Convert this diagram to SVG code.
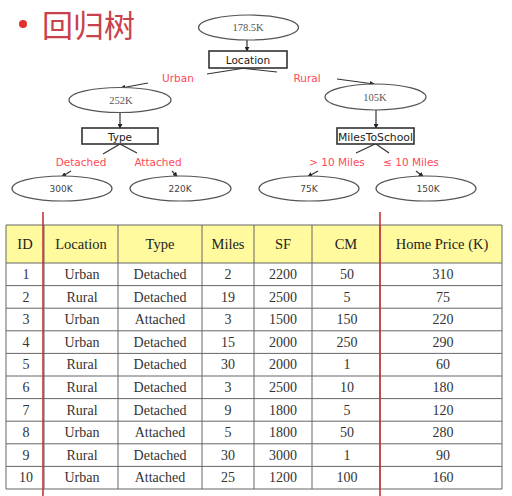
<svg xmlns="http://www.w3.org/2000/svg" width="512" height="496" viewBox="0 0 512 496">
<style>
.ell{fill:#fff;stroke:#555;stroke-width:1.2}
.box{fill:#fff;stroke:#333;stroke-width:1.6}
.lbl{font-family:"DejaVu Sans",sans-serif;font-size:10.5px;fill:#ff4a57;text-anchor:middle}
.bt{font-family:"DejaVu Sans",sans-serif;font-size:10.5px;fill:#222;text-anchor:middle}
.vs{font-family:"Liberation Serif",serif;font-size:10.5px;fill:#555;text-anchor:middle}
.vl{font-family:"DejaVu Sans",sans-serif;font-size:9px;fill:#444;text-anchor:middle}
.con line{stroke:#333;stroke-width:1.2}
.arr{marker-end:url(#ah)}
.grid line{stroke:#666;stroke-width:1}
.th{font-family:"Liberation Serif",serif;font-size:14.5px;fill:#222;text-anchor:middle}
.td{font-family:"Liberation Serif",serif;font-size:14px;fill:#333;text-anchor:middle}
.red{stroke:#c8323a;stroke-width:1.6}
</style>
<defs>
<marker id="ah" viewBox="0 0 6 6" refX="5" refY="3" markerWidth="5" markerHeight="5" orient="auto" markerUnits="userSpaceOnUse">
<path d="M0,0 L6,3 L0,6 z" fill="#222"/>
</marker>
</defs>
<rect width="512" height="496" fill="#fff"/>
<g id="title">
<circle cx="23" cy="24" r="4" fill="#e0312e"/>
<text x="42" y="37" font-family="'Noto Sans CJK SC',sans-serif" font-size="31" fill="#c8414b">回归树</text>
</g>
<g class="con" id="connectors">
<line class="arr" x1="247" y1="40" x2="247" y2="51"/>
<line x1="245" y1="68" x2="207" y2="74"/>
<line x1="240" y1="68" x2="277" y2="72"/>
<line class="arr" x1="148" y1="83" x2="121" y2="88"/>
<line class="arr" x1="337" y1="79" x2="374" y2="84"/>
<line class="arr" x1="120" y1="112.5" x2="120" y2="128"/>
<line x1="120" y1="144" x2="103" y2="154"/>
<line x1="120" y1="144" x2="137" y2="153"/>
<line class="arr" x1="71" y1="171" x2="62" y2="176.5"/>
<line class="arr" x1="172" y1="171" x2="177" y2="176.5"/>
<line class="arr" x1="376" y1="110" x2="376" y2="128"/>
<line x1="375" y1="144" x2="356" y2="153"/>
<line x1="376" y1="144" x2="389" y2="153"/>
<line class="arr" x1="318" y1="171" x2="308" y2="176.5"/>
<line class="arr" x1="416" y1="171" x2="423" y2="176.5"/>
</g>
<g id="n-root"><ellipse class="ell" cx="248.5" cy="27.5" rx="50" ry="12.5"/><text class="vs" x="248" y="31">178.5K</text></g>
<g id="n-location"><rect class="box" x="209" y="51" width="78" height="17"/><text class="bt" x="248" y="64">Location</text></g>
<g id="l-urban"><text class="lbl" x="178" y="81.5">Urban</text></g>
<g id="l-rural"><text class="lbl" x="307" y="81.5">Rural</text></g>
<g id="n-252"><ellipse class="ell" cx="120" cy="100" rx="51" ry="12.5"/><text class="vs" x="121" y="104">252K</text></g>
<g id="n-105"><ellipse class="ell" cx="375.5" cy="97" rx="50.5" ry="13"/><text class="vs" x="375" y="101">105K</text></g>
<g id="n-type"><rect class="box" x="82" y="128" width="76" height="16"/><text class="bt" x="120" y="141">Type</text></g>
<g id="n-miles"><rect class="box" x="337" y="128" width="77" height="16"/><text class="bt" x="375.5" y="141" textLength="75" lengthAdjust="spacingAndGlyphs">MilesToSchool</text></g>
<g id="l-detached"><text class="lbl" x="81" y="166">Detached</text></g>
<g id="l-attached"><text class="lbl" x="158" y="166">Attached</text></g>
<g id="l-gt10"><text class="lbl" x="337" y="166">&gt; 10 Miles</text></g>
<g id="l-le10"><text class="lbl" x="411" y="166">≤ 10 Miles</text></g>
<g id="n-300"><ellipse class="ell" cx="62" cy="188.5" rx="50" ry="12.5"/><text class="vl" x="61" y="192">300K</text></g>
<g id="n-220"><ellipse class="ell" cx="180.5" cy="188.5" rx="50.5" ry="12.5"/><text class="vl" x="180" y="192">220K</text></g>
<g id="n-75"><ellipse class="ell" cx="309" cy="188.5" rx="50" ry="12.5"/><text class="vl" x="309" y="192">75K</text></g>
<g id="n-150"><ellipse class="ell" cx="426" cy="188.5" rx="50" ry="12.5"/><text class="vl" x="428" y="192">150K</text></g>
<g id="table">
<rect x="6" y="225" width="496" height="38" fill="#fffa9e"/>
<rect x="6" y="263" width="496" height="226" fill="#fff"/>
<g class="grid">
<line x1="6" y1="225" x2="502" y2="225"/>
<line x1="6" y1="263" x2="502" y2="263"/>
<line x1="6" y1="285.6" x2="502" y2="285.6"/>
<line x1="6" y1="308.2" x2="502" y2="308.2"/>
<line x1="6" y1="330.8" x2="502" y2="330.8"/>
<line x1="6" y1="353.4" x2="502" y2="353.4"/>
<line x1="6" y1="376" x2="502" y2="376"/>
<line x1="6" y1="398.6" x2="502" y2="398.6"/>
<line x1="6" y1="421.2" x2="502" y2="421.2"/>
<line x1="6" y1="443.8" x2="502" y2="443.8"/>
<line x1="6" y1="466.4" x2="502" y2="466.4"/>
<line x1="6" y1="489" x2="502" y2="489"/>
<line x1="6" y1="225" x2="6" y2="489"/>
<line x1="44" y1="225" x2="44" y2="489"/>
<line x1="118" y1="225" x2="118" y2="489"/>
<line x1="202" y1="225" x2="202" y2="489"/>
<line x1="254" y1="225" x2="254" y2="489"/>
<line x1="312" y1="225" x2="312" y2="489"/>
<line x1="380" y1="225" x2="380" y2="489"/>
<line x1="502" y1="225" x2="502" y2="489"/>
</g>
<g>
<text class="th" x="25" y="249">ID</text><text class="th" x="81" y="249">Location</text><text class="th" x="160" y="249">Type</text><text class="th" x="228" y="249">Miles</text><text class="th" x="283" y="249">SF</text><text class="th" x="346" y="249">CM</text><text class="th" x="442" y="249">Home Price (K)</text>
</g>
<g>
<text class="td" x="26" y="279">1</text><text class="td" x="82" y="279">Urban</text><text class="td" x="160" y="279">Detached</text><text class="td" x="228" y="279">2</text><text class="td" x="283" y="279">2200</text><text class="td" x="347" y="279">50</text><text class="td" x="443" y="279">310</text>
<text class="td" x="26" y="301.6">2</text><text class="td" x="82" y="301.6">Rural</text><text class="td" x="160" y="301.6">Detached</text><text class="td" x="228" y="301.6">19</text><text class="td" x="283" y="301.6">2500</text><text class="td" x="347" y="301.6">5</text><text class="td" x="443" y="301.6">75</text>
<text class="td" x="26" y="324.2">3</text><text class="td" x="82" y="324.2">Urban</text><text class="td" x="160" y="324.2">Attached</text><text class="td" x="228" y="324.2">3</text><text class="td" x="283" y="324.2">1500</text><text class="td" x="347" y="324.2">150</text><text class="td" x="443" y="324.2">220</text>
<text class="td" x="26" y="346.8">4</text><text class="td" x="82" y="346.8">Urban</text><text class="td" x="160" y="346.8">Detached</text><text class="td" x="228" y="346.8">15</text><text class="td" x="283" y="346.8">2000</text><text class="td" x="347" y="346.8">250</text><text class="td" x="443" y="346.8">290</text>
<text class="td" x="26" y="369.4">5</text><text class="td" x="82" y="369.4">Rural</text><text class="td" x="160" y="369.4">Detached</text><text class="td" x="228" y="369.4">30</text><text class="td" x="283" y="369.4">2000</text><text class="td" x="347" y="369.4">1</text><text class="td" x="443" y="369.4">60</text>
<text class="td" x="26" y="392">6</text><text class="td" x="82" y="392">Rural</text><text class="td" x="160" y="392">Detached</text><text class="td" x="228" y="392">3</text><text class="td" x="283" y="392">2500</text><text class="td" x="347" y="392">10</text><text class="td" x="443" y="392">180</text>
<text class="td" x="26" y="414.6">7</text><text class="td" x="82" y="414.6">Rural</text><text class="td" x="160" y="414.6">Detached</text><text class="td" x="228" y="414.6">9</text><text class="td" x="283" y="414.6">1800</text><text class="td" x="347" y="414.6">5</text><text class="td" x="443" y="414.6">120</text>
<text class="td" x="26" y="437.2">8</text><text class="td" x="82" y="437.2">Urban</text><text class="td" x="160" y="437.2">Attached</text><text class="td" x="228" y="437.2">5</text><text class="td" x="283" y="437.2">1800</text><text class="td" x="347" y="437.2">50</text><text class="td" x="443" y="437.2">280</text>
<text class="td" x="26" y="459.8">9</text><text class="td" x="82" y="459.8">Rural</text><text class="td" x="160" y="459.8">Detached</text><text class="td" x="228" y="459.8">30</text><text class="td" x="283" y="459.8">3000</text><text class="td" x="347" y="459.8">1</text><text class="td" x="443" y="459.8">90</text>
<text class="td" x="26" y="482.4">10</text><text class="td" x="82" y="482.4">Urban</text><text class="td" x="160" y="482.4">Attached</text><text class="td" x="228" y="482.4">25</text><text class="td" x="283" y="482.4">1200</text><text class="td" x="347" y="482.4">100</text><text class="td" x="443" y="482.4">160</text>
</g>
<line class="red" x1="43" y1="212" x2="43" y2="496"/>
<line class="red" x1="380" y1="212" x2="380" y2="496"/>
</g>
</svg>
